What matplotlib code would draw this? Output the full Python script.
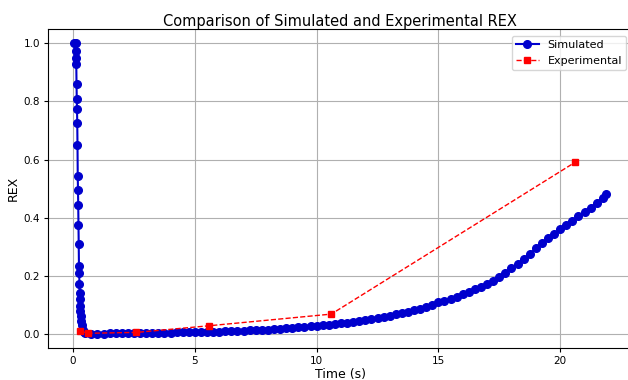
import matplotlib
matplotlib.use("Agg")
import matplotlib.pyplot as plt

# simulated REX, fast initial drop then slow rise
sim_time = [0.05, 0.1, 0.11, 0.12, 0.13, 0.14, 0.15, 0.16, 0.17, 0.18, 0.19, 0.2,
            0.21, 0.22, 0.23, 0.24, 0.25, 0.26, 0.27, 0.28, 0.29, 0.3, 0.32, 0.34,
            0.36, 0.4, 0.45,
            0.5, 0.75, 1.0, 1.25, 1.5, 1.75, 2.0, 2.25, 2.5, 2.75, 3.0, 3.25, 3.5,
            3.75, 4.0, 4.25, 4.5, 4.75, 5.0, 5.25, 5.5, 5.75, 6.0, 6.25, 6.5, 6.75,
            7.0, 7.25, 7.5, 7.75, 8.0, 8.25, 8.5, 8.75, 9.0, 9.25, 9.5, 9.75, 10.0,
            10.25, 10.5, 10.75, 11.0, 11.25, 11.5, 11.75, 12.0, 12.25, 12.5, 12.75,
            13.0, 13.25, 13.5, 13.75, 14.0, 14.25, 14.5, 14.75, 15.0, 15.25, 15.5,
            15.75, 16.0, 16.25, 16.5, 16.75, 17.0, 17.25, 17.5, 17.75, 18.0, 18.25,
            18.5, 18.75, 19.0, 19.25, 19.5, 19.75, 20.0, 20.25, 20.5, 20.75, 21.0,
            21.25, 21.5, 21.75, 21.9]
sim_rex = [1.0, 1.0, 0.975, 0.95, 0.93, 0.86, 0.81, 0.775, 0.725, 0.65, 0.545, 0.495,
           0.445, 0.375, 0.31, 0.235, 0.21, 0.17, 0.14, 0.12, 0.095, 0.08, 0.06, 0.045,
           0.03, 0.015, 0.005,
           0.002, 0.001, 0.001, 0.001, 0.0015, 0.0015, 0.002, 0.002, 0.0025, 0.003,
           0.003, 0.0035, 0.004, 0.004, 0.0045, 0.005, 0.005, 0.0055, 0.006, 0.0065,
           0.007, 0.0075, 0.008, 0.0085, 0.009, 0.010, 0.011, 0.012, 0.013, 0.014,
           0.015, 0.016, 0.018, 0.019, 0.020, 0.022, 0.024, 0.026, 0.028, 0.030,
           0.032, 0.034, 0.036, 0.039, 0.042, 0.045, 0.048, 0.051, 0.055, 0.059,
           0.063, 0.067, 0.071, 0.076, 0.081, 0.087, 0.094, 0.101, 0.108, 0.114,
           0.121, 0.128, 0.136, 0.145, 0.153, 0.162, 0.171, 0.182, 0.195, 0.210,
           0.226, 0.242, 0.258, 0.275, 0.295, 0.313, 0.330, 0.345, 0.360, 0.375,
           0.390, 0.405, 0.420, 0.435, 0.452, 0.468, 0.480]

exp_time = [0.3, 0.6, 2.6, 5.6, 10.6, 20.6]
exp_rex = [0.01, 0.002, 0.005, 0.028, 0.068, 0.59]

fig, ax = plt.subplots(figsize=(6.28, 3.8), dpi=100)
ax.plot(sim_time, sim_rex, marker='o', linestyle='-', color='mediumblue',
        markersize=5.5, linewidth=1.5, label='Simulated')
ax.plot(exp_time, exp_rex, marker='s', linestyle='--', color='red',
        markersize=4, linewidth=1.0, label='Experimental')
ax.set_title("Comparison of Simulated and Experimental REX", fontsize=10.5, pad=2)
ax.set_xlabel("Time (s)", fontsize=9, labelpad=2)
ax.set_ylabel("REX", fontsize=9, labelpad=3)
ax.tick_params(labelsize=7.5, length=3, pad=2.5)
ax.grid(True)
ax.legend(loc='upper right', fontsize=8, borderaxespad=0.6)
# right spine falls just past the image edge in the reference
fig.subplots_adjust(left=0.076, right=1.008, top=0.924, bottom=0.084)
fig.savefig("out.png")
